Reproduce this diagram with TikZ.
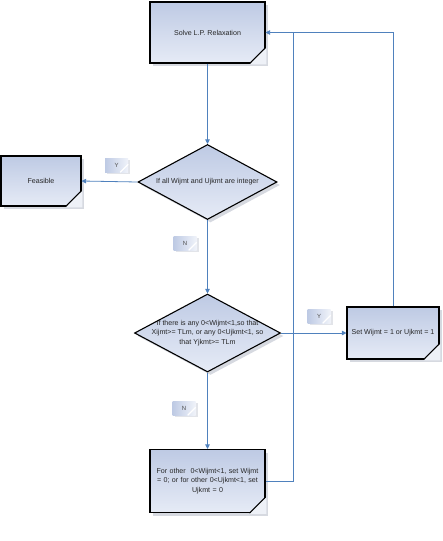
\documentclass[tikz,border=0pt]{standalone}
\usepackage{fontspec}
\setmainfont{Liberation Sans}
\usetikzlibrary{shapes.geometric,arrows.meta,shadows}
\definecolor{cajaA}{RGB}{190,202,228}
\definecolor{cajaB}{RGB}{230,235,246}
\definecolor{pliegue}{RGB}{238,241,247}
\definecolor{enlace}{RGB}{79,129,189}
\definecolor{sombra}{RGB}{214,217,224}
\begin{document}
\begin{tikzpicture}[
    x=1pt, y=-1pt,
    font=\fontsize{7.1}{9.5}\selectfont,
    caja/.style={rectangle, draw=black, line width=1.1pt, top color=cajaA, bottom color=cajaB,
      drop shadow={shadow xshift=3pt, shadow yshift=-3pt, fill=sombra, opacity=1},
      inner sep=2pt, align=center, text=black!85},
    rombo/.style={diamond, draw=black, line width=1.1pt, top color=cajaA, bottom color=cajaB,
      drop shadow={shadow xshift=3pt, shadow yshift=-3pt, fill=sombra, opacity=1}, inner sep=0pt},
    textorombo/.style={align=center, inner sep=0pt, text=black!85},
    marca/.style={rectangle, minimum width=23pt, minimum height=14pt, inner sep=0pt,
      left color=cajaA, right color=cajaB!60,
      drop shadow={shadow xshift=2pt, shadow yshift=-2pt, fill=sombra!70, opacity=1},
      font=\fontsize{6}{6}\selectfont, text=black!70},
    flecha/.style={draw=enlace, line width=0.8pt, -{Triangle[width=4.5pt,length=4.5pt]}},
    linea/.style={draw=enlace, line width=0.8pt}
  ]
  % 1 pt = 1 px de la referencia (442 x 541), eje y hacia abajo
  \useasboundingbox (0,0) rectangle (442,541);

  % --- cajas de proceso ---
  \node[caja, minimum width=115pt, minimum height=61pt] (relajacion) at (207.5,32.5) {Solve L.P. Relaxation};
  \node[caja, minimum width=80pt, minimum height=50pt] (factible) at (41,181) {Feasible};
  \node[caja, minimum width=92pt, minimum height=52pt, inner sep=0pt] (fijar) at (393,333) {Set Wijmt = 1 or Ujkmt = 1};
  \node[caja, minimum width=115pt, minimum height=63pt, text width=111pt] (ajuste) at (207.5,481)
    {For other\ \ 0<Wijmt<1, set Wijmt\\= 0; or for other 0<Ujkmt<1, set\\Ujkmt = 0};

  % --- rombos de decision ---
  \node[rombo, minimum width=139pt, minimum height=75pt] (entero) at (207.5,182) {};
  \node[textorombo] (t-entero) at (entero.center) {If all Wijmt and Ujkmt are integer};
  \node[rombo, minimum width=146pt, minimum height=78pt] (fraccion) at (207.5,333) {};
  \node[textorombo] (t-fraccion) at (fraccion.center)
    {If there is any 0<Wijmt<1,so that\\Xijmt>= TLm, or any 0<Ujkmt<1, so\\that Yjkmt>= TLm};

  % --- esquina doblada ---
  \foreach \n in {relajacion, factible, fijar, ajuste}{
    \fill[pliegue] ([xshift=-16pt,yshift=-0.7pt]\n.south east) -- ([xshift=0.7pt,yshift=-0.7pt]\n.south east)
      -- ([xshift=0.7pt,yshift=16pt]\n.south east) -- cycle;
    \draw[black, line width=1.1pt] ([xshift=-16pt]\n.south east) -- ([yshift=16pt]\n.south east);
  }

  % --- marcas Y / N ---
  \foreach \m/\pos/\txt in {m-y1/{(116.5,165)}/Y, m-n1/{(185,243)}/N, m-y2/{(319,316)}/Y, m-n2/{(184,408)}/N}{
    \node[marca] (\m) at \pos {\txt};
    \draw[white, line width=1.2pt] ([xshift=-8pt]\m.south east) -- ([yshift=8pt]\m.south east);
  }

  % --- conectores ---
  \coordinate (retorno) at (293,32.5);
  \draw[flecha] (relajacion.south) -- (entero.north);
  \draw[flecha] (entero.west) -- (factible.east);
  \draw[flecha] (entero.south) -- (fraccion.north);
  \draw[flecha] (fraccion.east) -- (fijar.west);
  \draw[flecha] (fraccion.south) -- (ajuste.north);
  \draw[flecha] (ajuste.east) -| (retorno) -- (relajacion.east);
  \draw[linea] (fijar.north) |- (retorno);
\end{tikzpicture}
\end{document}
